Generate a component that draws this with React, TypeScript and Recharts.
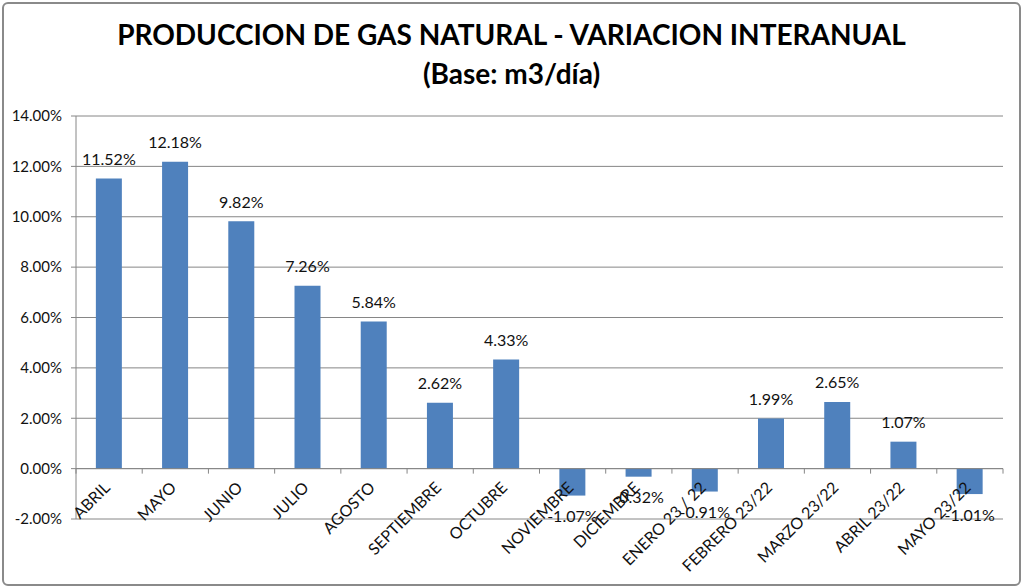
import React from 'react';
import { BarChart, Bar, XAxis, YAxis, CartesianGrid, ReferenceLine, LabelList } from 'recharts';

const months = [
    'ABRIL',
    'MAYO',
    'JUNIO',
    'JULIO',
    'AGOSTO',
    'SEPTIEMBRE',
    'OCTUBRE',
    'NOVIEMBRE',
    'DICIEMBRE',
    'ENERO 23 / 22',
    'FEBRERO 23/22',
    'MARZO 23/22',
    'ABRIL 23/22',
    'MAYO 23/22',
];
const variation = [11.52, 12.18, 9.82, 7.26, 5.84, 2.62, 4.33, -1.07, -0.32, -0.91, 1.99, 2.65, 1.07, -1.01];
const yTicks = [-2, 0, 2, 4, 6, 8, 10, 12, 14];

const data = months.map((month, i) => ({ month, value: variation[i] }));

const W = 1023;
const H = 588;
const TOP = 116;
const BOTTOM = 69;
const PLOT_H = H - TOP - BOTTOM;
const ZERO_UP = (PLOT_H * 2) / 16; // distance from bottom (-2%) to the 0 line
const BAND = (1003 - 76) / months.length;
const GRID = '#868686';
const FONT = 'Lato, "Open Sans", sans-serif';

const MonthTick = (props: any) => {
    const { x, y, payload, index } = props;
    const zeroY = y - ZERO_UP;
    return (
        <g>
            <line x1={x - BAND / 2} y1={zeroY} x2={x - BAND / 2} y2={zeroY + 5} stroke={GRID} />
            {index === months.length - 1 && (
                <line x1={x + BAND / 2} y1={zeroY} x2={x + BAND / 2} y2={zeroY + 5} stroke={GRID} />
            )}
            <text
                x={x + 2}
                y={zeroY + 20}
                textAnchor="end"
                transform={`rotate(-45 ${x + 2} ${zeroY + 20})`}
                fontSize={16}
                fontFamily={FONT}
                fill="#111"
            >
                {payload.value}
            </text>
        </g>
    );
};

const ValueLabel = (props: any) => {
    const { x, y, width, height, value } = props;
    const top = Math.min(y, y + height);
    const bottom = Math.max(y, y + height);
    const ly = value >= 0 ? top - 20 : bottom + 20;
    return (
        <text
            x={x + width / 2}
            y={ly}
            textAnchor="middle"
            dominantBaseline="central"
            fontSize={16}
            fontFamily={FONT}
            fill="#111"
        >
            {value.toFixed(2)}%
        </text>
    );
};

export default function App() {
    return (
        <div style={{ position: 'absolute', left: 0, top: 0, width: W, height: H, background: '#fff' }}>
            <div
                style={{
                    position: 'absolute',
                    left: 2,
                    top: 2,
                    width: W - 8,
                    height: H - 8,
                    border: '2px solid #8a8a8a',
                    borderRadius: 6,
                }}
            />
            <div
                style={{
                    position: 'absolute',
                    left: 0,
                    top: 15,
                    width: W,
                    textAlign: 'center',
                    fontFamily: FONT,
                    fontWeight: 700,
                    fontSize: 28,
                    lineHeight: '39px',
                    color: '#000',
                }}
            >
                <div>PRODUCCION DE GAS NATURAL - VARIACION INTERANUAL</div>
                <div>(Base: m3/día)</div>
            </div>
            <div style={{ position: 'absolute', left: 0, top: 0 }}>
                <BarChart
                    width={W}
                    height={H}
                    data={data}
                    margin={{ top: TOP, right: 20, left: 0, bottom: 0 }}
                    barCategoryGap="30%"
                >
                    <CartesianGrid vertical={false} stroke={GRID} strokeDasharray="" />
                    <XAxis
                        dataKey="month"
                        height={BOTTOM}
                        axisLine={false}
                        tickLine={false}
                        tickSize={0}
                        tickMargin={0}
                        interval={0}
                        tick={<MonthTick />}
                    />
                    <YAxis
                        width={76}
                        domain={[-2, 14]}
                        ticks={yTicks}
                        interval={0}
                        tickFormatter={(v: number) => `${v.toFixed(2)}%`}
                        axisLine={{ stroke: GRID }}
                        tickLine={{ stroke: GRID }}
                        tickSize={5}
                        tickMargin={9}
                        tick={{ fontSize: 15, fill: '#111', fontFamily: FONT }}
                    />
                    <ReferenceLine y={0} stroke={GRID} />
                    <Bar dataKey="value" fill="#4f81bd" isAnimationActive={false}>
                        <LabelList dataKey="value" content={<ValueLabel />} />
                    </Bar>
                </BarChart>
            </div>
        </div>
    );
}
